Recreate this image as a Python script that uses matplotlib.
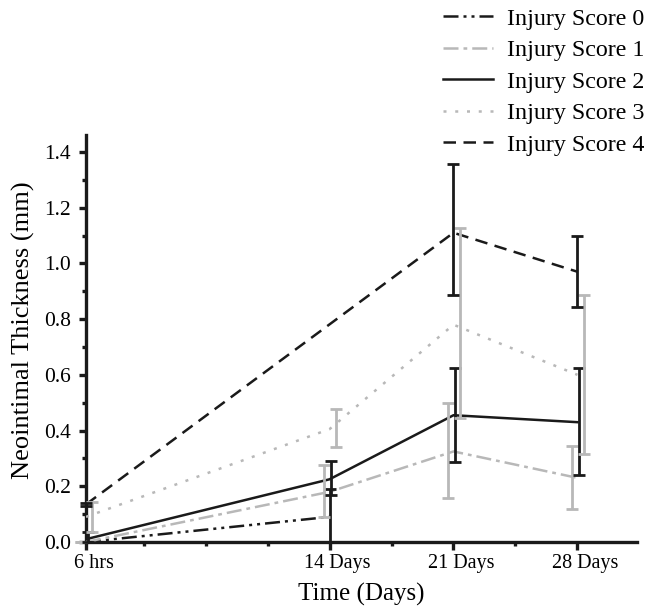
import numpy as np
import matplotlib
matplotlib.use('Agg')
import matplotlib.pyplot as plt
from matplotlib.ticker import MultipleLocator, FixedLocator
from matplotlib.transforms import ScaledTranslation

plt.rcParams['font.family'] = ['Liberation Serif', 'DejaVu Serif']

# time points (days); 6 hrs = 0.25 days
days = [0.25, 14, 21, 28]
tick_labels = ['6 hrs', '14 Days', '21 Days', '28 Days']

# mean neointimal thickness (mm) and error bar ends
score0_x = [0.25, 14]
score0 = [0.0, 0.09]
score0_lo = [0.0, 0.0]
score0_hi = [0.0, 0.19]

score1_x = [0.25, 14, 21, 28]
score1 = [0.0, 0.18, 0.325, 0.23]
score1_lo = [0.0, 0.088, 0.158, 0.118]
score1_hi = [0.0, 0.275, 0.50, 0.345]

score2_x = [0.25, 14, 21, 28]
score2 = [0.01, 0.225, 0.455, 0.43]
score2_lo = [0.0, 0.168, 0.287, 0.24]
score2_hi = [0.036, 0.29, 0.625, 0.625]

score3_x = [0.25, 14, 21, 28]
score3 = [0.09, 0.405, 0.78, 0.60]
score3_lo = [0.036, 0.34, 0.445, 0.316]
score3_hi = [0.143, 0.477, 1.127, 0.887]

score4_x = [0.25, 21, 28]
score4 = [0.135, 1.11, 0.97]
score4_lo = [0.13, 0.887, 0.843]
score4_hi = [0.14, 1.357, 1.10]

black = '#1a1a1a'
grey = '#b8b8b8'

fig = plt.figure(figsize=(6.48, 6.08), dpi=100)
ax = fig.add_axes([0.1327, 0.1086, 0.8503, 0.6694])

def draw(xs, ys, lo, hi, color, ls, label, shift):
    ax.plot(xs, ys, color=color, linestyle=ls, linewidth=1.8, label=label, zorder=3)
    xe = np.array(xs) + shift
    ye = np.array(ys)
    err = [ye - np.array(lo), np.array(hi) - ye]
    ax.errorbar(xe, ye, yerr=err, fmt='none', ecolor=color, elinewidth=2,
                capsize=4, capthick=2, zorder=4, clip_on=False)

draw(score0_x, score0, score0_lo, score0_hi, black, (0, (6, 2, 1.2, 2, 1.2, 2)), 'Injury Score 0', 0.0)
draw(score1_x, score1, score1_lo, score1_hi, grey, (0, (6, 2, 1.5, 2)), 'Injury Score 1', -0.3)
draw(score2_x, score2, score2_lo, score2_hi, black, '-', 'Injury Score 2', 0.1)
draw(score3_x, score3, score3_lo, score3_hi, grey, (0, (1.2, 3.5)), 'Injury Score 3', 0.35)
draw(score4_x, score4, score4_lo, score4_hi, black, (0, (5, 3)), 'Injury Score 4', 0.0)

ax.set_xlim(0.25, 31.36)
ax.set_ylim(0, 1.461)

for s in ['top', 'right']:
    ax.spines[s].set_visible(False)
for s in ['left', 'bottom']:
    ax.spines[s].set_linewidth(2.4)
    ax.spines[s].set_color(black)

ax.xaxis.set_major_locator(FixedLocator(days))
ax.set_xticklabels(tick_labels)
ax.xaxis.set_minor_locator(FixedLocator([3.5, 7, 10.5, 17.5, 24.5]))
ax.yaxis.set_major_locator(MultipleLocator(0.2))
ax.yaxis.set_minor_locator(MultipleLocator(0.1))
ax.yaxis.set_major_formatter(matplotlib.ticker.FormatStrFormatter('%.1f'))

ax.tick_params(axis='y', which='major', direction='out', length=5, width=2.4, labelsize=15.5, color=black, pad=6)
ax.tick_params(axis='y', which='minor', direction='out', length=3, width=2.4, color=black)
ax.tick_params(axis='x', which='major', direction='out', length=6, width=2.4, labelsize=14.5, color=black, pad=3)
ax.tick_params(axis='x', which='minor', direction='out', length=3, width=2.4, color=black)

# x tick labels sit a little right of their ticks in the original
shift = ScaledTranslation(8 / 100, 0, fig.dpi_scale_trans)
for lbl in ax.get_xticklabels():
    lbl.set_transform(lbl.get_transform() + shift)

ax.set_xlabel('Time (Days)', fontsize=18, labelpad=7)
ax.set_ylabel('Neointimal Thickness (mm)', fontsize=19, labelpad=6)
ax.yaxis.set_label_coords(-0.093, 0.52)

ax.legend(loc='upper left', bbox_to_anchor=(443 / 648, 1 - 8 / 608), bbox_transform=fig.transFigure,
          frameon=False, fontsize=17.3, handlelength=2.1, handletextpad=0.55, labelspacing=0.40,
          borderpad=0, borderaxespad=0)

fig.savefig('out.png', dpi=100)
